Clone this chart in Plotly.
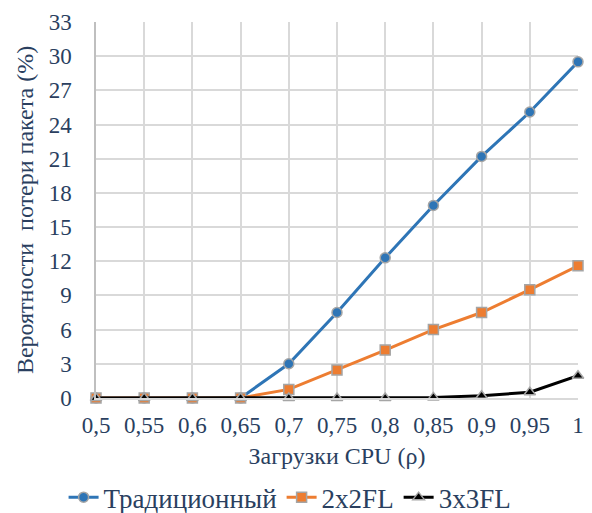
import plotly.graph_objects as go

# CPU load levels (rho) and packet-loss probabilities (%)
load = [0.5, 0.55, 0.6, 0.65, 0.7, 0.75, 0.8, 0.85, 0.9, 0.95, 1.0]
load_labels = ["0,5", "0,55", "0,6", "0,65", "0,7", "0,75", "0,8", "0,85", "0,9", "0,95", "1"]

traditional = [0, 0, 0, 0, 3.0, 7.5, 12.3, 16.9, 21.2, 25.1, 29.5]
fl_2x2 = [0, 0, 0, 0, 0.75, 2.45, 4.2, 6.0, 7.5, 9.5, 11.6]
fl_3x3 = [0, 0, 0, 0, 0, 0, 0, 0.05, 0.2, 0.5, 1.95]

y_ticks = list(range(0, 34, 3))

FONT = "Times New Roman"
OUTLINE = "#a5a5a5"

series = [
    ("Традиционный", traditional, "#2e75b6", "circle"),
    ("2x2FL", fl_2x2, "#ed7d31", "square"),
    ("3x3FL", fl_3x3, "#000000", "triangle-up"),
]

traces = [
    go.Scatter(
        x=load, y=values, name=name, mode="lines+markers",
        line=dict(color=color, width=3),
        marker=dict(symbol=symbol, size=10, color=color,
                    line=dict(color=OUTLINE, width=1.5)),
        cliponaxis=False,
    )
    for name, values, color, symbol in series
]

fig = go.Figure(data=traces)

fig.update_layout(
    width=592, height=513,
    font=dict(family=FONT, size=23),
    margin=dict(l=96, r=8, t=22, b=110),
    paper_bgcolor="white", plot_bgcolor="white",
    legend=dict(orientation="h", xref="container", yref="container",
                x=0.49, xanchor="center", y=0.03, yanchor="middle",
                font=dict(size=27)),
)

fig.update_xaxes(
    range=[0.5, 1.0], tickvals=load, ticktext=load_labels,
    gridcolor="#d9d9d9", gridwidth=1.5,
    showline=True, linecolor="#d9d9d9", linewidth=1.5,
    ticks="outside", ticklen=6, tickcolor="rgba(0,0,0,0)", zeroline=False,
    title=dict(text="Загрузки CPU (ρ)", font=dict(size=24), standoff=10),
)
fig.update_yaxes(
    range=[0, 33], tickvals=y_ticks,
    gridcolor="#d9d9d9", gridwidth=1.5,
    showline=True, linecolor="#bfbfbf", linewidth=1.5,
    ticks="outside", ticklen=18, tickcolor="rgba(0,0,0,0)", zeroline=False,
    title=dict(text="Вероятности  потери пакета (%)", font=dict(size=24), standoff=8),
)

fig.write_html("out.html")
